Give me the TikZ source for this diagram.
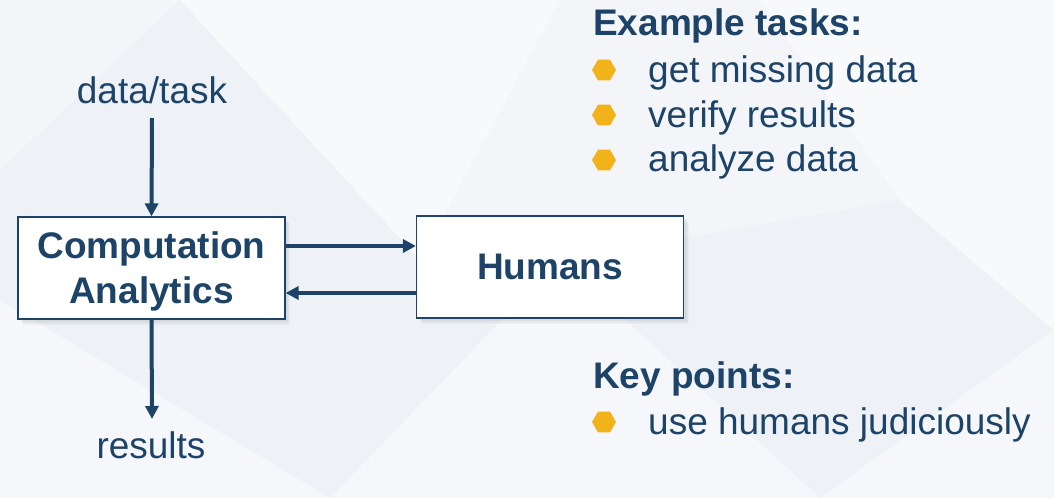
\documentclass[tikz,border=0pt]{standalone}
\usepackage{fontspec}
\setmainfont{Liberation Sans}
\usetikzlibrary{arrows.meta,shapes.geometric,shadows}
\definecolor{navy}{HTML}{1D4468}
\definecolor{gold}{HTML}{F2B21A}
\definecolor{bgbase}{HTML}{EEF2F6}

\begin{document}
\begin{tikzpicture}[x=1pt,y=-1pt,
  label/.style={font=\fontsize{37}{45}\selectfont, text=navy, inner sep=0pt},
  head/.style={font=\fontsize{37}{45}\selectfont\bfseries, text=navy, inner sep=0pt},
  boxnode/.style={draw=navy, line width=1.2pt, fill=white,
    font=\fontsize{37}{45}\selectfont\bfseries, text=navy, align=center,
    minimum width=267pt, minimum height=102pt, inner sep=0pt, text depth=0pt,
    drop shadow={shadow xshift=5pt, shadow yshift=-6pt, opacity=0.05},
    drop shadow={shadow xshift=4pt, shadow yshift=-4.5pt, opacity=0.07},
    drop shadow={shadow xshift=3pt, shadow yshift=-3pt, opacity=0.09}},
  flow/.style={draw=navy, line width=4pt, -{Triangle[length=13pt,width=13pt]}},
  hexbullet/.style={regular polygon, regular polygon sides=6, minimum size=24pt,
    inner sep=0pt, fill=gold, draw=none}]

  % page and faint background facets
  \useasboundingbox (0,0) rectangle (1054,498);
  \fill[bgbase] (0,0) rectangle (1054,498);
  \fill[white, opacity=0.55] (180,0) -- (560,0) -- (420,260) -- cycle;
  \fill[white, opacity=0.45] (0,300) -- (330,498) -- (0,498) -- cycle;
  \fill[white, opacity=0.6] (760,0) -- (1054,0) -- (1054,330) -- (900,200) -- cycle;
  \fill[white, opacity=0.45] (330,498) -- (560,260) -- (820,498) -- cycle;
  \fill[white, opacity=0.45] (820,498) -- (1054,330) -- (1054,498) -- cycle;
  \fill[white, opacity=0.35] (0,0) -- (180,0) -- (0,170) -- cycle;
  \fill[white, opacity=0.3] (420,260) -- (560,0) -- (760,0) -- (900,200) -- (560,260) -- cycle;

  % flow
  \node[label, anchor=base] (in) at (152,103) {data/task};
  \node[boxnode] (comp) at (151.5,268) {Computation\\Analytics};
  \node[boxnode] (hum) at (550,267) {Humans};
  \node[label, anchor=base] (out) at (151,458) {results};

  \draw[flow] (152,118) coordinate (inS) -- (comp.north);
  \draw[flow] (comp.south) -- (152,419) coordinate (outE);
  \draw[flow] (comp.east |- 0,246) -- (hum.west |- 0,246);
  \draw[flow] (hum.west |- 0,293) -- (comp.east |- 0,293);

  % example tasks
  \node[head, anchor=base west] (ex) at (593,35) {Example tasks:};
  \node[hexbullet] (b1) at (604,70) {};
  \node[label, anchor=base west] (t1) at (648,82) {get missing data};
  \node[hexbullet] (b2) at (604,115) {};
  \node[label, anchor=base west] (t2) at (648,127) {verify results};
  \node[hexbullet] (b3) at (604,160) {};
  \node[label, anchor=base west] (t3) at (648,171) {analyze data};

  % key points
  \node[head, anchor=base west] (kp) at (593,388) {Key points:};
  \node[hexbullet] (b4) at (604,422) {};
  \node[label, anchor=base west] (t4) at (648,434) {use humans judiciously};
\end{tikzpicture}
\end{document}
